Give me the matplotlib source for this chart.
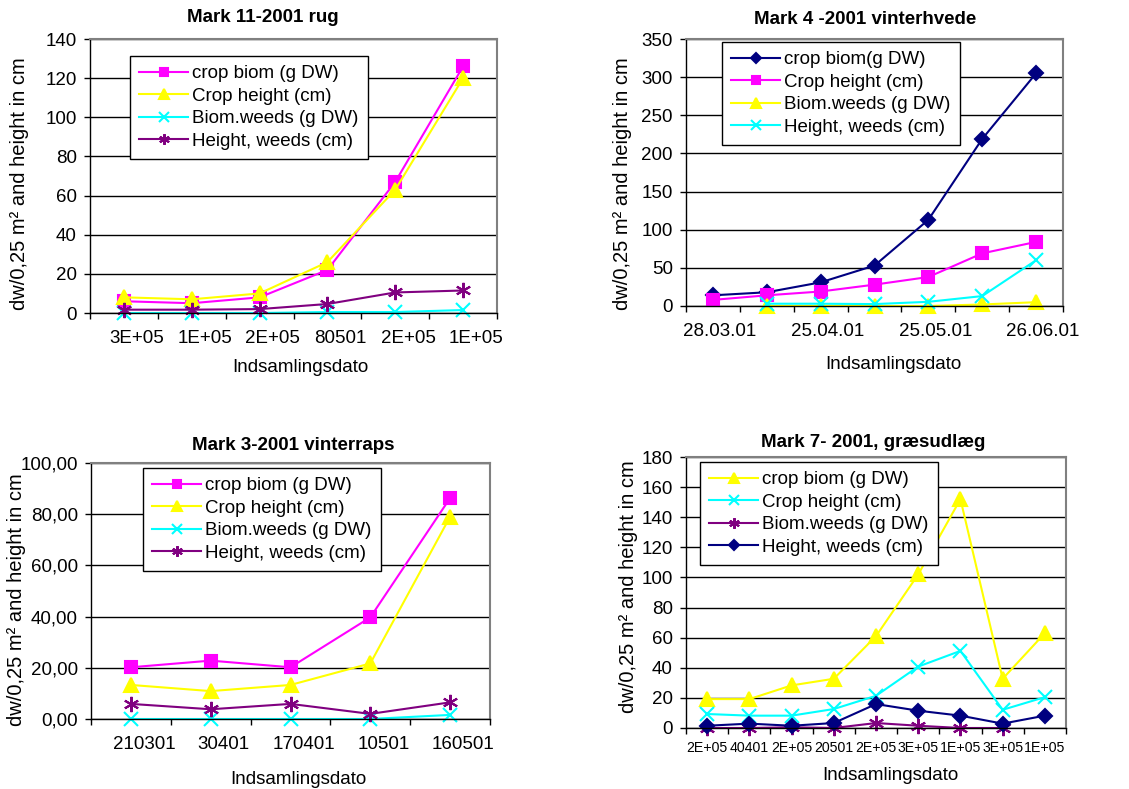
import numpy as np
import matplotlib
matplotlib.use("Agg")
import matplotlib.pyplot as plt
import matplotlib.transforms as mtransforms
from matplotlib.ticker import FuncFormatter

plt.rcParams["font.family"] = ["Liberation Sans", "DejaVu Sans"]

W, H = 1129, 789
nan = np.nan

# Mark 11 - rug
rug_dates = ["3E+05", "1E+05", "2E+05", "80501", "2E+05", "1E+05"]
rug_crop_biom = [6, 5, 8, 22, 67, 126]
rug_crop_height = [8, 7, 10, 26, 63, 120]
rug_biom_weeds = [0, 0, 0, 0.5, 0.5, 1.5]
rug_height_weeds = [1.7, 1.7, 2, 4.6, 10.5, 11.5]

# Mark 4 - vinterhvede
hvede_dates = ["28.03.01", "", "25.04.01", "", "25.05.01", "", "26.06.01"]
hvede_crop_biom = [14, 18, 31, 53, 113, 219, 305]
hvede_crop_height = [8, 14, 19, 28, 38, 69, 84]
hvede_biom_weeds = [nan, 0, 0, 0, 0, 2, 5]
hvede_height_weeds = [nan, 3, 3, 2.5, 5.5, 13, 60]

# Mark 3 - vinterraps
raps_dates = ["210301", "30401", "170401", "10501", "160501"]
raps_crop_biom = [20.2, 22.8, 20.2, 39.7, 86.3]
raps_crop_height = [13.3, 10.9, 13.3, 21.7, 79]
raps_biom_weeds = [0, 0, 0, 0, 1.6]
raps_height_weeds = [5.9, 3.8, 5.9, 2.0, 6.5]

# Mark 7 - graesudlaeg
graes_dates = ["2E+05", "40401", "2E+05", "20501", "2E+05", "3E+05", "1E+05", "3E+05", "1E+05"]
graes_crop_biom = [19.2, 19.2, 28.3, 32.7, 61, 102, 152, 32.7, 63]
graes_crop_height = [9.3, 8.2, 8.2, 12.6, 21.4, 40.8, 51.2, 12.1, 20.5]
graes_biom_weeds = [0, 0, 0.5, 0, 3.3, 1.5, 0, 0, nan]
graes_height_weeds = [1.5, 2.9, 1.5, 3.3, 15.9, 11.5, 8.2, 2.9, 8.2]

MAGENTA, YELLOW, CYAN = "#FF00FF", "#FFFF00", "#00FFFF"
PURPLE, NAVY = "#800080", "#000080"
STAR = (6, 2, 0)

FS = 13.5

fig = plt.figure(figsize=(W / 100, H / 100), dpi=100)


def px(x, y):
    return x / W, 1 - y / H


def make_axes(left, top, right, bottom):
    x0, y1 = px(left, top)
    x1, y0 = px(right, bottom)
    return fig.add_axes([x0, y0, x1 - x0, y1 - y0])


def style(ax, labels, ymax, ystep, yfmt, label_dx, xfs=FS):
    n = len(labels)
    ax.set_xlim(-0.5, n - 0.5)
    ax.set_ylim(0, ymax)
    ax.set_yticks(np.arange(0, ymax + ystep / 2, ystep))
    ax.yaxis.set_major_formatter(FuncFormatter(yfmt))
    ax.set_xticks(np.arange(n))
    ax.set_xticklabels(labels)
    ax.set_xticks(np.arange(n + 1) - 0.5, minor=True)
    ax.tick_params(axis="x", which="major", length=0, pad=12, labelsize=xfs)
    ax.tick_params(axis="x", which="minor", length=4.5, width=1, direction="out")
    ax.tick_params(axis="y", length=4.5, width=1, direction="out", pad=5, labelsize=FS)
    ax.grid(axis="y", color="black", linewidth=1)
    ax.set_axisbelow(True)
    for side in ("top", "right"):
        ax.spines[side].set_color("#808080")
        ax.spines[side].set_linewidth(1.5)
    for side in ("left", "bottom"):
        ax.spines[side].set_color("black")
        ax.spines[side].set_linewidth(1)
    shift = mtransforms.ScaledTranslation(label_dx / 100, 0, fig.dpi_scale_trans)
    for lbl in ax.get_xticklabels():
        lbl.set_transform(lbl.get_transform() + shift)


def texts(ax, title, tpos, xlpos, ylpos):
    fig.text(*px(*tpos), title, ha="center", va="center", fontsize=FS, fontweight="bold")
    fig.text(*px(*xlpos), "Indsamlingsdato", ha="center", va="center", fontsize=FS)
    fig.text(*px(*ylpos), "dw/0,25 m² and height in cm", ha="center", va="center",
             rotation=90, fontsize=14.5)


def legend(ax, pos):
    leg = ax.legend(loc="upper left", bbox_to_anchor=px(*pos), bbox_transform=fig.transFigure,
                    borderaxespad=0, fontsize=FS, fancybox=False, framealpha=1,
                    edgecolor="black", handlelength=2.6, handletextpad=0.2,
                    labelspacing=0.28, borderpad=0.5, markerscale=0.7)
    leg.get_frame().set_linewidth(1)


def series(ax, x, y, color, marker, label, ms, mew=1.5):
    ax.plot(x, y, color=color, marker=marker, markersize=ms, markeredgewidth=mew,
            linewidth=1.5, label=label, clip_on=False)


int_fmt = lambda v, p: f"{v:.0f}"
comma_fmt = lambda v, p: f"{v:.2f}".replace(".", ",")

# top left
ax1 = make_axes(90, 39, 497, 313)
x = np.arange(len(rug_dates))
series(ax1, x, rug_crop_biom, MAGENTA, "s", "crop biom (g DW)", 9)
series(ax1, x, rug_crop_height, YELLOW, "^", "Crop height (cm)", 10)
series(ax1, x, rug_biom_weeds, CYAN, "x", "Biom.weeds (g DW)", 10)
series(ax1, x, rug_height_weeds, PURPLE, STAR, "Height, weeds (cm)", 11)
style(ax1, rug_dates, 140, 20, int_fmt, 13)
legend(ax1, (130, 56))
texts(ax1, "Mark 11-2001 rug", (263, 18), (300, 367), (20, 184))

# top right
ax2 = make_axes(686, 39, 1063, 306)
x = np.arange(len(hvede_dates))
series(ax2, x, hvede_crop_biom, NAVY, "D", "crop biom(g DW)", 7.5)
series(ax2, x, hvede_crop_height, MAGENTA, "s", "Crop height (cm)", 9)
series(ax2, x, hvede_biom_weeds, YELLOW, "^", "Biom.weeds (g DW)", 10)
series(ax2, x, hvede_height_weeds, CYAN, "x", "Height, weeds (cm)", 10)
style(ax2, hvede_dates, 350, 50, int_fmt, 7)
legend(ax2, (722, 42))
texts(ax2, "Mark 4 -2001 vinterhvede", (865, 20), (893, 365), (622, 184))

# bottom left
ax3 = make_axes(91, 463, 490, 719)
x = np.arange(len(raps_dates))
series(ax3, x, raps_crop_biom, MAGENTA, "s", "crop biom (g DW)", 9)
series(ax3, x, raps_crop_height, YELLOW, "^", "Crop height (cm)", 10)
series(ax3, x, raps_biom_weeds, CYAN, "x", "Biom.weeds (g DW)", 10)
series(ax3, x, raps_height_weeds, PURPLE, STAR, "Height, weeds (cm)", 11)
style(ax3, raps_dates, 100, 20, comma_fmt, 13)
legend(ax3, (143, 468))
texts(ax3, "Mark 3-2001 vinterraps", (293, 445), (298, 779), (17, 600))

# bottom right
ax4 = make_axes(686, 457, 1066, 728)
x = np.arange(len(graes_dates))
series(ax4, x, graes_crop_biom, YELLOW, "^", "crop biom (g DW)", 10)
series(ax4, x, graes_crop_height, CYAN, "x", "Crop height (cm)", 10)
series(ax4, x, graes_biom_weeds, PURPLE, STAR, "Biom.weeds (g DW)", 11)
series(ax4, x, graes_height_weeds, NAVY, "D", "Height, weeds (cm)", 7.5)
style(ax4, graes_dates, 180, 20, int_fmt, 8, xfs=10.2)
ax4.tick_params(axis="x", which="major", pad=9)
legend(ax4, (700, 462))
texts(ax4, "Mark 7- 2001, græsudlæg", (873, 442), (890, 775), (628, 587))

fig.savefig("out.png", dpi=100)
